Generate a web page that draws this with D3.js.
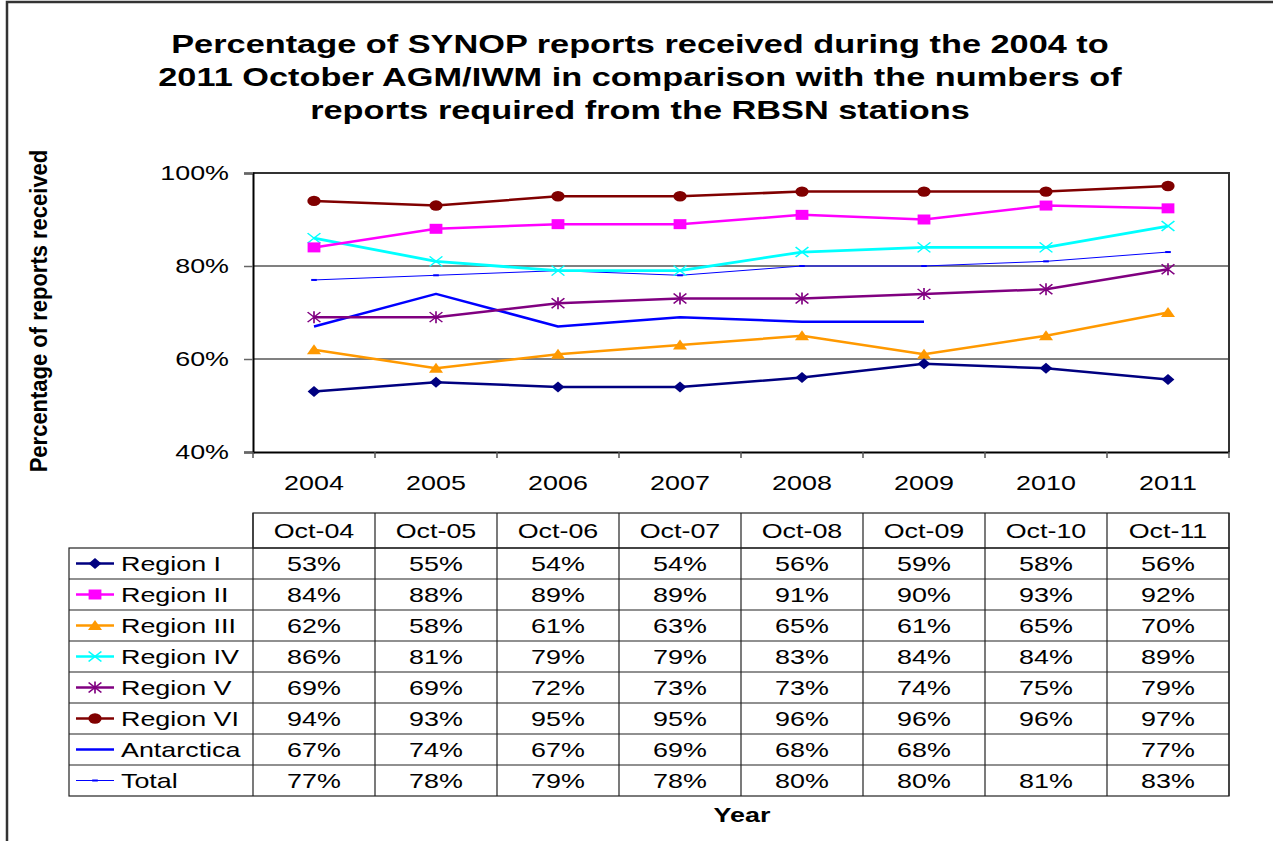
<!DOCTYPE html>
<meta charset="utf-8">
<head>
    <title>SYNOP reports received</title>
    <script src="https://cdn.jsdelivr.net/npm/d3@7"></script>
</head>

<style>
    body { margin: 0; background: #fff; }
    svg { font-family: "Liberation Sans", Arial, sans-serif; }
    .grid { stroke: #808080; stroke-width: 2px; }
    .cell { stroke: #222; stroke-width: 1.2px; fill: none; }
</style>

<svg id="chart" width="1273" height="841"></svg>

<script>
    // data
    var years = ["2004", "2005", "2006", "2007", "2008", "2009", "2010", "2011"];
    var months = ["Oct-04", "Oct-05", "Oct-06", "Oct-07", "Oct-08", "Oct-09", "Oct-10", "Oct-11"];
    var yTicks = [40, 60, 80, 100];

    var regionI = [53, 55, 54, 54, 56, 59, 58, 55.6];
    var regionII = [84, 88, 89, 89, 91, 90, 93, 92.4];
    var regionIII = [62, 58, 61, 63, 65, 61, 65, 70];
    var regionIV = [86, 81, 79, 79, 83, 84, 84, 88.6];
    var regionV = [69, 69, 72, 73, 73, 74, 75, 79.3];
    var regionVI = [94, 93, 95, 95, 96, 96, 96, 97.2];
    var antarctica = [67, 74, 67, 69, 68, 68, null, 77];
    var total = [77, 78, 79, 78, 80, 80, 81, 83];

    var series = [
        {name: "Region I", values: regionI, color: "#000080", mark: "diamond", width: 2.5},
        {name: "Region II", values: regionII, color: "#FF00FF", mark: "square", width: 2.5},
        {name: "Region III", values: regionIII, color: "#FF9900", mark: "triangle", width: 2.5},
        {name: "Region IV", values: regionIV, color: "#00FFFF", mark: "cross", width: 2.8},
        {name: "Region V", values: regionV, color: "#800080", mark: "star", width: 2.5},
        {name: "Region VI", values: regionVI, color: "#800000", mark: "circle", width: 2.5},
        {name: "Antarctica", values: antarctica, color: "#0000FF", mark: "none", width: 2.5},
        {name: "Total", values: total, color: "#0000FF", mark: "dash", width: 1}
    ];

    // the source picture is stretched sideways, so text is too
    var SX = 1.28;
    var plot = {left: 253, right: 1229, top: 173, bottom: 452};
    var tableTop = 513, headH = 35, rowH = 31, legendLeft = 69;

    var svg = d3.select('#chart');

    function stretch(sel, x, k) {
        k = k || SX;
        sel.attr('x', x / k).attr('transform', 'scale(' + k + ',1)');
        return sel;
    }

    var marks = {
        diamond: "M0,-5.5L5,0L0,5.5L-5,0Z",
        square: "M-5,-5H5V5H-5Z",
        triangle: "M0,-5.5L5.5,4.5L-5.5,4.5Z",
        cross: "M-5,-5L5,5M-5,5L5,-5",
        star: "M-5,-5L5,5M-5,5L5,-5M0,-6V6",
        circle: d3.symbol(d3.symbolCircle, Math.PI * 27)(),
        dash: "M-2.2,0H2.2",
        none: ""
    };
    var strokeOnly = {cross: true, star: true, dash: true};

    function drawMark(g, s, cx, cy) {
        if (s.mark === "none") return;
        var p = g.append('path')
            .attr('d', marks[s.mark])
            .attr('transform', 'translate(' + cx + ',' + cy + ') scale(' + SX + ',1)');
        if (strokeOnly[s.mark]) {
            p.attr('fill', 'none').attr('stroke', s.color)
                .attr('stroke-width', s.mark === "dash" ? 2 : 1.3);
        } else {
            p.attr('fill', s.color).attr('stroke', 'none');
        }
    }

    // outer frame
    svg.append('path').attr('d', 'M7,850V2H1280')
        .attr('fill', 'none').attr('stroke', '#333').attr('stroke-width', 2.5);

    // title
    var titleLines = [
        "Percentage of SYNOP reports received during the 2004 to",
        "2011 October AGM/IWM in comparison with the numbers of",
        "reports required from the RBSN stations"
    ];
    titleLines.forEach(function (t, i) {
        stretch(svg.append('text'), 640, 1.32)
            .attr('y', 53 + i * 33)
            .attr('text-anchor', 'middle')
            .attr('font-size', 26).attr('font-weight', 'bold')
            .text(t);
    });

    // scales
    var x = d3.scaleBand().domain(years).range([plot.left, plot.right]);
    var y = d3.scaleLinear().domain([40, 100]).range([plot.bottom, plot.top]);

    // grid lines
    svg.append('g').selectAll('line').data([60, 80]).enter().append('line')
        .attr('class', 'grid')
        .attr('x1', plot.left).attr('x2', plot.right)
        .attr('y1', function (d) { return y(d); }).attr('y2', function (d) { return y(d); });

    // plot border (top, right)
    svg.append('path')
        .attr('d', 'M' + plot.left + ',' + y(100) + 'H' + plot.right + 'V' + plot.bottom)
        .attr('fill', 'none').attr('stroke', '#333').attr('stroke-width', 2);

    // y axis
    var yAxis = svg.append('g')
        .attr('transform', 'translate(' + plot.left + ',0)')
        .call(d3.axisLeft(y).tickValues(yTicks).tickSize(9).tickPadding(15)
            .tickFormat(function (d) { return d + "%"; }));
    yAxis.select('.domain').attr('stroke', '#000').attr('stroke-width', 2);
    yAxis.selectAll('.tick line').attr('stroke', '#666').attr('stroke-width', 1.5);
    yAxis.selectAll('.tick text').each(function () {
        stretch(d3.select(this), -24).attr('font-size', 21).attr('fill', '#000');
    });

    // x axis
    var xAxis = svg.append('g')
        .attr('transform', 'translate(0,' + plot.bottom + ')')
        .call(d3.axisBottom(x).tickSize(0));
    xAxis.select('.domain').attr('stroke', '#000').attr('stroke-width', 2);
    xAxis.selectAll('.tick text').each(function () {
        stretch(d3.select(this), 0).attr('y', 31).attr('dy', '0.35em')
            .attr('font-size', 21).attr('fill', '#000');
    });
    var bounds = years.map(function (d) { return x(d); }).concat([plot.right]);
    xAxis.selectAll('line.bound').data(bounds).enter().append('line')
        .attr('class', 'bound')
        .attr('x1', function (d) { return d; }).attr('x2', function (d) { return d; })
        .attr('y1', 0).attr('y2', 6)
        .attr('stroke', '#555').attr('stroke-width', 1.5);

    // axis titles
    svg.append('text')
        .attr('transform', 'translate(47,311) scale(1.1,1) rotate(-90)')
        .attr('text-anchor', 'middle')
        .attr('font-size', 22).attr('font-weight', 'bold')
        .text("Percentage of reports received");

    stretch(svg.append('text'), 742)
        .attr('y', 822)
        .attr('text-anchor', 'middle')
        .attr('font-size', 21).attr('font-weight', 'bold')
        .text("Year");

    // series lines
    var line = d3.line()
        .defined(function (d) { return d != null; })
        .x(function (d, i) { return x(years[i]) + x.bandwidth() / 2; })
        .y(function (d) { return y(d); });

    var gSeries = svg.append('g');
    series.slice().reverse().forEach(function (s) {
        gSeries.append('path')
            .attr('d', line(s.values))
            .attr('fill', 'none')
            .attr('stroke', s.color)
            .attr('stroke-width', s.width)
            .attr('stroke-linejoin', 'round');
        s.values.forEach(function (v, i) {
            if (v == null) return;
            drawMark(gSeries, s, x(years[i]) + x.bandwidth() / 2, y(v));
        });
    });

    // data table
    var gTable = svg.append('g');
    var tableBottom = tableTop + headH + rowH * series.length;

    // header row
    gTable.append('rect').attr('class', 'cell')
        .attr('x', plot.left).attr('y', tableTop)
        .attr('width', plot.right - plot.left).attr('height', headH);
    months.forEach(function (m, i) {
        stretch(gTable.append('text'), x(years[i]) + x.bandwidth() / 2)
            .attr('y', tableTop + headH / 2).attr('dy', '0.35em')
            .attr('text-anchor', 'middle').attr('font-size', 21)
            .text(m);
    });

    // body
    gTable.append('rect').attr('class', 'cell')
        .attr('x', legendLeft).attr('y', tableTop + headH)
        .attr('width', plot.right - legendLeft).attr('height', rowH * series.length);
    bounds.forEach(function (b) {
        gTable.append('line').attr('class', 'cell')
            .attr('x1', b).attr('x2', b).attr('y1', tableTop).attr('y2', tableBottom);
    });
    series.forEach(function (s, r) {
        var top = tableTop + headH + r * rowH;
        var cy = top + rowH / 2;
        if (r > 0) {
            gTable.append('line').attr('class', 'cell')
                .attr('x1', legendLeft).attr('x2', plot.right)
                .attr('y1', top).attr('y2', top);
        }
        // legend key
        gTable.append('line')
            .attr('x1', 76).attr('x2', 114).attr('y1', cy).attr('y2', cy)
            .attr('stroke', s.color).attr('stroke-width', s.width === 1 ? 1 : 2.5);
        drawMark(gTable, s, 95, cy);
        stretch(gTable.append('text'), 121)
            .attr('y', cy).attr('dy', '0.35em')
            .attr('font-size', 21).text(s.name);
        // values
        s.values.forEach(function (v, i) {
            if (v == null) return;
            stretch(gTable.append('text'), x(years[i]) + x.bandwidth() / 2)
                .attr('y', cy).attr('dy', '0.35em')
                .attr('text-anchor', 'middle').attr('font-size', 21)
                .text(Math.round(v) + "%");
        });
    });
</script>
